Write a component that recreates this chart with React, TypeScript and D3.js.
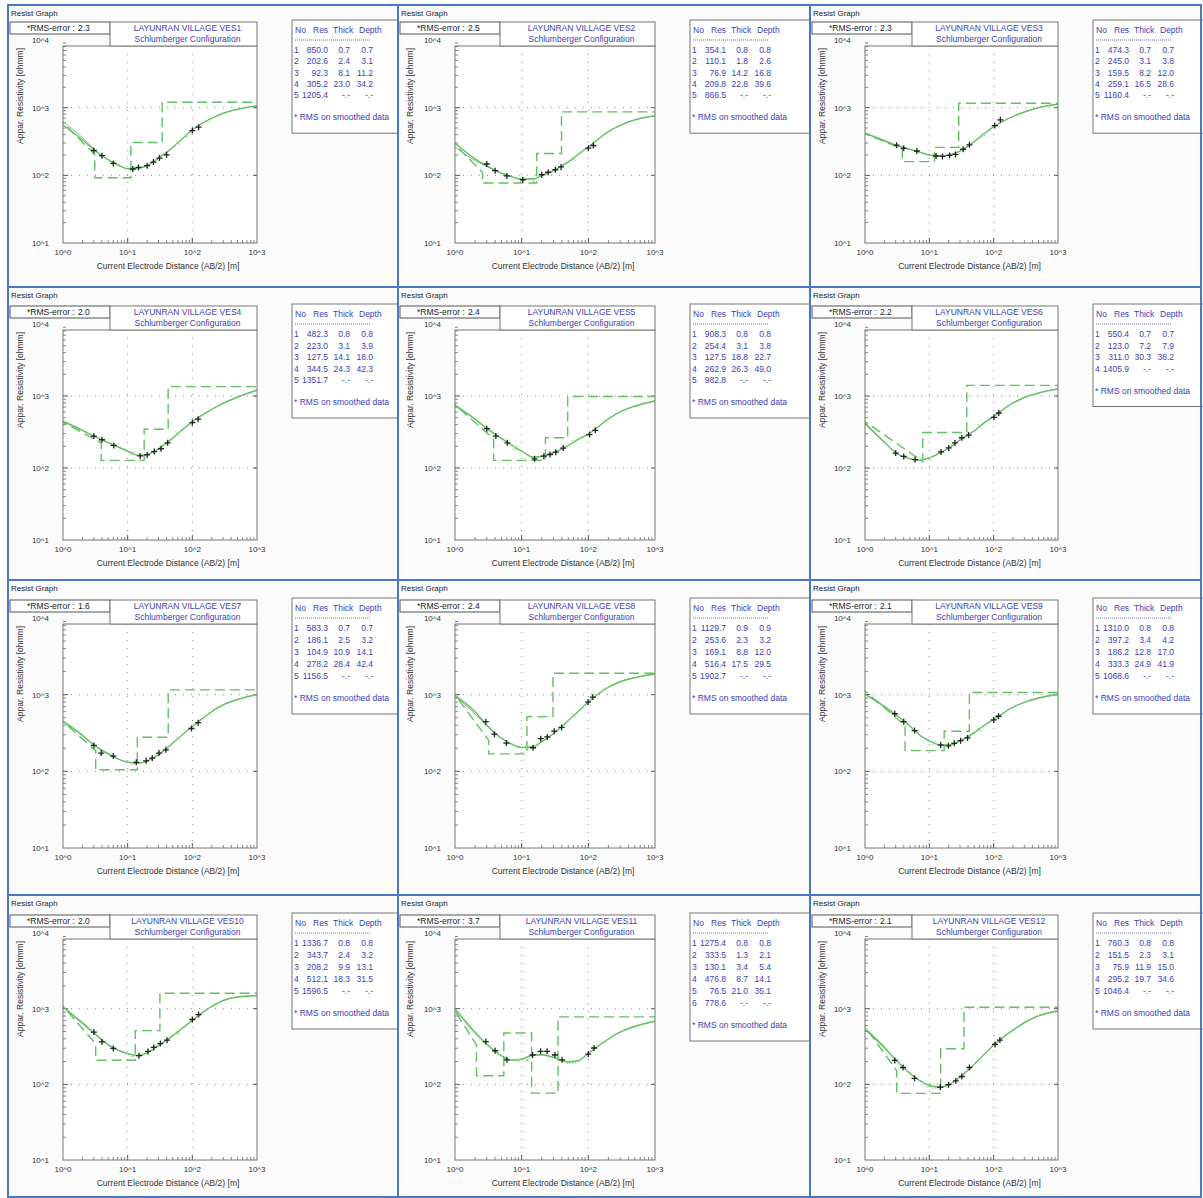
import React from 'react';
import * as d3 from 'd3';

const STATIONS = ['VES1', 'VES2', 'VES3', 'VES4', 'VES5', 'VES6', 'VES7', 'VES8', 'VES9', 'VES10', 'VES11', 'VES12'];
const RMS_ERROR = [2.3, 2.5, 2.3, 2.0, 2.4, 2.2, 1.6, 2.4, 2.1, 2.0, 3.7, 2.1];

const LAYER_RES = [
  [850.0, 202.6, 92.3, 305.2, 1205.4],
  [354.1, 110.1, 76.9, 209.8, 866.5],
  [474.3, 245.0, 159.5, 259.1, 1160.4],
  [482.3, 223.0, 127.5, 344.5, 1351.7],
  [908.3, 254.4, 127.5, 262.9, 982.8],
  [550.4, 123.0, 311.0, 1405.9],
  [583.3, 186.1, 104.9, 278.2, 1156.5],
  [1129.7, 253.6, 169.1, 516.4, 1902.7],
  [1310.0, 397.2, 186.2, 333.3, 1068.6],
  [1336.7, 343.7, 208.2, 512.1, 1596.5],
  [1275.4, 333.5, 130.1, 476.8, 76.5, 778.6],
  [760.3, 151.5, 75.9, 295.2, 1046.4],
];
const LAYER_THICK = [
  [0.7, 2.4, 8.1, 23.0],
  [0.8, 1.8, 14.2, 22.8],
  [0.7, 3.1, 8.2, 16.5],
  [0.8, 3.1, 14.1, 24.3],
  [0.8, 3.1, 18.8, 26.3],
  [0.7, 7.2, 30.3],
  [0.7, 2.5, 10.9, 28.4],
  [0.9, 2.3, 8.8, 17.5],
  [0.8, 3.4, 12.8, 24.9],
  [0.8, 2.4, 9.9, 18.3],
  [0.8, 1.3, 3.4, 8.7, 21.0],
  [0.8, 2.3, 11.9, 19.7],
];
const LAYER_DEPTH = [
  [0.7, 3.1, 11.2, 34.2],
  [0.8, 2.6, 16.8, 39.6],
  [0.7, 3.8, 12.0, 28.6],
  [0.8, 3.9, 18.0, 42.3],
  [0.8, 3.8, 22.7, 49.0],
  [0.7, 7.9, 38.2],
  [0.7, 3.2, 14.1, 42.4],
  [0.9, 3.2, 12.0, 29.5],
  [0.8, 4.2, 17.0, 41.9],
  [0.8, 3.2, 13.1, 31.5],
  [0.8, 2.1, 5.4, 14.1, 35.1],
  [0.8, 3.1, 15.0, 34.6],
];

// AB/2 positions at which the two curves were read
const CURVE_AB2 = [1, 2, 3, 5, 7, 10, 15, 20, 30, 50, 70, 100, 200, 300, 500, 1000];
const MODEL_CURVE = [
  [556, 335, 238, 170, 144, 126, 128, 140, 180, 261, 346, 470, 697, 825, 945, 1060],
  [300, 175, 138, 108, 96, 88, 89, 99, 118, 158, 203, 262, 440, 545, 660, 755],
  [417, 324, 279, 242, 222, 200, 194, 200, 229, 316, 407, 525, 741, 861, 1000, 1122],
  [447, 334, 278, 225, 198, 172, 150, 155, 185, 262, 340, 440, 650, 790, 960, 1200],
  [748, 480, 355, 258, 210, 172, 142, 146, 163, 205, 250, 295, 480, 600, 720, 850],
  [420, 230, 163, 135, 129, 138, 165, 190, 245, 330, 420, 520, 800, 950, 1100, 1250],
  [453, 296, 220, 170, 146, 132, 128, 137, 165, 235, 300, 385, 600, 735, 860, 1000],
  [980, 600, 400, 270, 228, 205, 210, 245, 310, 460, 600, 800, 1250, 1470, 1660, 1850],
  [1020, 707, 552, 390, 300, 250, 222, 222, 250, 320, 395, 475, 685, 790, 900, 1000],
  [1072, 650, 481, 335, 285, 255, 240, 262, 325, 440, 550, 700, 1070, 1280, 1420, 1480],
  [1000, 489, 342, 239, 209, 215, 244, 246, 227, 198, 205, 257, 398, 489, 581, 678],
  [551, 310, 212, 140, 113, 97, 92, 99, 125, 185, 244, 330, 520, 650, 800, 930],
];
const SMOOTH_CURVE = [
  [622, 360, 245, 168, 142, 125, 127, 139, 178, 258, 345, 468, 700, 830, 950, 1070],
  [262, 165, 135, 107, 95, 87, 88, 98, 117, 157, 202, 262, 445, 550, 665, 765],
  [425, 330, 282, 240, 220, 198, 193, 199, 228, 315, 405, 520, 745, 870, 1010, 1135],
  [440, 330, 276, 224, 196, 170, 149, 154, 184, 260, 338, 438, 655, 800, 975, 1220],
  [720, 470, 350, 255, 208, 170, 141, 145, 162, 204, 249, 295, 485, 610, 730, 865],
  [400, 225, 162, 134, 128, 137, 164, 189, 243, 328, 418, 520, 805, 960, 1110, 1265],
  [440, 290, 218, 168, 145, 131, 127, 136, 164, 233, 298, 383, 605, 745, 870, 1010],
  [960, 560, 390, 268, 226, 204, 208, 243, 308, 458, 598, 805, 1260, 1490, 1680, 1880],
  [1000, 690, 545, 388, 298, 248, 221, 221, 249, 318, 393, 473, 690, 800, 915, 1020],
  [1040, 630, 470, 330, 282, 253, 239, 260, 323, 438, 548, 705, 1080, 1295, 1440, 1500],
  [1000, 470, 335, 236, 207, 214, 244, 246, 226, 196, 203, 255, 400, 495, 590, 690],
  [520, 300, 208, 138, 112, 96, 91, 98, 124, 183, 242, 328, 525, 660, 815, 945],
];

// field measurements [AB/2, apparent resistivity]
const FIELD_DATA = [
  [[3, 233], [4, 195], [6, 150], [12, 124], [14.7, 131], [20, 139], [25, 157], [31, 180], [40, 201], [100, 459], [125, 514]],
  [[3, 147], [4, 117], [6, 98], [10.4, 86], [20, 102], [25, 111], [32, 121], [39, 133], [100, 252], [119, 276]],
  [[3.1, 279], [4, 251], [6.4, 229], [12.7, 193], [16, 190], [20.6, 197], [25.5, 204], [33.6, 243], [42, 282], [104, 543], [127, 661]],
  [[3, 278], [4, 247], [6.1, 206], [15.6, 147], [20, 152], [25.8, 169], [32.7, 185], [41.5, 224], [100, 428], [123, 476]],
  [[3, 352], [4.1, 278], [6.1, 224], [15.6, 134], [21.5, 146], [26.6, 154], [32.5, 166], [42, 189], [104, 291], [127, 334]],
  [[3, 161], [4, 145], [6, 131], [15.2, 167], [20, 190], [25, 223], [32, 263], [40.7, 287], [101, 505], [120, 581]],
  [[3, 218], [3.9, 173], [6, 158], [13.6, 131], [19.3, 137], [24, 149], [30.5, 173], [39, 191], [97, 362], [123, 431]],
  [[2.9, 444], [3.9, 305], [5.9, 234], [14.8, 203], [19.3, 267], [24.2, 281], [30.8, 334], [39.7, 374], [99, 800], [117, 931]],
  [[2.9, 564], [4, 444], [5.9, 340], [15, 220], [19.8, 215], [24.4, 232], [30.6, 251], [39.3, 273], [100, 469], [119, 523]],
  [[3, 491], [4, 364], [6, 298], [15, 239], [20.6, 272], [25.3, 307], [32, 346], [40.6, 383], [100, 719], [125, 836]],
  [[2.9, 367], [4, 278], [6, 211], [14.6, 244], [19.2, 273], [24.1, 273], [31.6, 244], [40.4, 211], [100, 251], [122, 302]],
  [[2.9, 207], [3.9, 167], [5.9, 120], [14.8, 92], [19.9, 99], [25.8, 111], [32, 127], [42, 167], [105, 337], [125, 384]],
];

// smoothed data markers (light x)
const SMOOTH_MARKS = [
  [[12, 125], [60, 300], [80, 380]],
  [[10, 84], [15, 84], [60, 175]],
  [[12, 196], [70, 400]],
  [[12, 160], [60, 300]],
  [[8, 190], [60, 230]],
  [[8, 128], [10, 135], [60, 380]],
  [[12, 128], [60, 270]],
  [[12, 205], [60, 530]],
  [[12, 235], [60, 350]],
  [[12, 240], [60, 480]],
  [[9, 208], [12, 210], [50, 195], [62, 198]],
  [[10, 96], [12, 92], [60, 215]],
];

const X_TICKS = [1, 10, 100, 1000];
const Y_TICKS = [10, 100, 1000, 10000];

// page layout (3 columns x 4 rows of screenshots)
const ROWS = [
  { top: 5, bottom: 287, y4: 40, y1: 243, step: 11.3 },
  { top: 287, bottom: 580, y4: 324, y1: 540, step: 11.5 },
  { top: 580, bottom: 895, y4: 618, y1: 848, step: 12 },
  { top: 895, bottom: 1197, y4: 933, y1: 1160, step: 12 },
];
const COLS = [
  { left: 8, right: 398, x0: 63, x3: 257 },
  { left: 398, right: 810, x0: 455, x3: 655 },
  { left: 810, right: 1201, x0: 865, x3: 1058 },
];

const FONT = '"Liberation Sans", Arial, sans-serif';
const BLUE_TEXT = '#3d3db8';
const GREEN = '#62c062';
const BORDER = '#4a78c8';

const fmt = (v: number) => v.toFixed(1);

function modelSteps(res: number[], depth: number[]) {
  const pts: number[][] = [[0.1, res[0]], [depth[0], res[0]]];
  for (let k = 1; k < res.length - 1; k++) {
    pts.push([depth[k], res[k]], [depth[k], res[k + 1]]);
  }
  pts.push([5000, res[res.length - 1]]);
  return pts;
}

function Panel({ idx }: { idx: number }) {
  const ri = Math.floor(idx / 3);
  const row = ROWS[ri];
  const col = COLS[idx % 3];
  const x = d3.scaleLog().domain([1, 1000]).range([col.x0, col.x3]);
  const y = d3.scaleLog().domain([10, 10000]).range([row.y1, row.y4]);
  const frameTop = row.y4 + 6;
  const boxTop = frameTop - 24;
  const clipId = `clip-${idx}`;

  const smoothLine = d3.line<number[]>().x(d => x(d[0])).y(d => y(d[1])).curve(d3.curveMonotoneX);
  const stepLine = d3.line<number[]>().x(d => x(d[0])).y(d => y(d[1]));

  const res = LAYER_RES[idx];
  const thick = LAYER_THICK[idx];
  const depth = LAYER_DEPTH[idx];
  const fit = CURVE_AB2.map((a, k) => [a, MODEL_CURVE[idx][k]]);
  const smooth = CURVE_AB2.map((a, k) => [a, SMOOTH_CURVE[idx][k]]);

  const minor: number[] = [];
  [1, 10, 100].forEach(d => { for (let m = 2; m < 10; m++) minor.push(d * m); });
  const minorY: number[] = [];
  [10, 100, 1000].forEach(d => { for (let m = 2; m < 10; m++) minorY.push(d * m); });

  const tLeft = col.x3 + 35;
  const tTop = boxTop - 2;
  const rowsY = res.map((_, k) => tTop + 33 + k * row.step);
  const noteY = rowsY[rowsY.length - 1] + 22;
  const tBottom = noteY + 13;

  const plotW = col.x3 - col.x0;

  return (
    <g fontFamily={FONT}>
      <rect x={col.left} y={row.top} width={col.right - col.left} height={row.bottom - row.top} fill="#fbfbfb" />
      <text x={col.left + 3} y={row.top + 11} fontSize={8} fill="#222">Resist Graph</text>

      <clipPath id={clipId}>
        <rect x={col.x0} y={frameTop} width={plotW} height={row.y1 - frameTop} />
      </clipPath>
      <rect x={col.x0} y={frameTop} width={plotW} height={row.y1 - frameTop} fill="#ffffff" />

      {/* dotted grid */}
      {[10, 100].map(v => (
        <line key={'gx' + v} x1={x(v)} x2={x(v)} y1={frameTop} y2={row.y1} stroke="#888" strokeWidth={1} strokeDasharray="1,7" />
      ))}
      {[100, 1000].map(v => (
        <line key={'gy' + v} x1={col.x0} x2={col.x3} y1={y(v)} y2={y(v)} stroke="#888" strokeWidth={1} strokeDasharray="1,7" />
      ))}

      {/* minor ticks */}
      {minor.map(v => (
        <line key={'mx' + v} x1={x(v)} x2={x(v)} y1={row.y1} y2={row.y1 - 3} stroke="#666" strokeWidth={0.8} />
      ))}
      {minorY.map(v => (
        <line key={'my' + v} x1={col.x0} x2={col.x0 + 3} y1={y(v)} y2={y(v)} stroke="#666" strokeWidth={0.8} />
      ))}
      {[10, 100].map(v => (
        <line key={'tx' + v} x1={x(v)} x2={x(v)} y1={row.y1} y2={row.y1 - 5} stroke="#555" strokeWidth={1} />
      ))}
      {[100, 1000].map(v => (
        <g key={'ty' + v}>
          <line x1={col.x0} x2={col.x0 + 5} y1={y(v)} y2={y(v)} stroke="#555" strokeWidth={1} />
          <line x1={col.x3} x2={col.x3 - 4} y1={y(v)} y2={y(v)} stroke="#555" strokeWidth={1} />
        </g>
      ))}

      <g clipPath={`url(#${clipId})`}>
        <path d={stepLine(modelSteps(res, depth)) || ''} fill="none" stroke={GREEN} strokeWidth={1.4} strokeDasharray="10,5" />
        <path d={smoothLine(smooth) || ''} fill="none" stroke={GREEN} strokeWidth={0.9} />
        <path d={smoothLine(fit) || ''} fill="none" stroke={GREEN} strokeWidth={1.3} />
        {SMOOTH_MARKS[idx].map((p, k) => (
          <path key={'sm' + k} transform={`translate(${x(p[0])},${y(p[1])})`} d="M-2,-2L2,2M-2,2L2,-2" stroke="#8fd08f" strokeWidth={1} />
        ))}
        {FIELD_DATA[idx].map((p, k) => (
          <path key={'fd' + k} transform={`translate(${x(p[0])},${y(p[1])})`} d="M-3,0H3M0,-3V3" stroke="#222" strokeWidth={1.3} />
        ))}
      </g>

      {/* frame */}
      <rect x={col.x0} y={frameTop} width={plotW} height={row.y1 - frameTop} fill="none" stroke="#777" strokeWidth={1} />

      {/* axis labels */}
      {Y_TICKS.map(v => (
        <text key={'yl' + v} x={col.x0 - 14} y={y(v) + 3} fontSize={8} textAnchor="end" fill="#333">
          {`10^${Math.round(Math.log10(v))}`}
        </text>
      ))}
      {X_TICKS.map(v => (
        <text key={'xl' + v} x={x(v)} y={row.y1 + 12} fontSize={8} textAnchor="middle" fill="#333">
          {`10^${Math.round(Math.log10(v))}`}
        </text>
      ))}
      <text x={(col.x0 + col.x3) / 2 + 8} y={row.y1 + 26} fontSize={8.5} textAnchor="middle" fill="#333">
        Current Electrode Distance (AB/2) [m]
      </text>
      <text transform={`translate(${col.left + 15},${frameTop + 2}) rotate(-90)`} fontSize={8.5} textAnchor="end" fill="#333">
        Appar. Resistivity [ohmm]
      </text>

      {/* RMS box */}
      <rect x={col.left + 2} y={boxTop} width={100} height={12} fill="#fff" stroke="#555" strokeWidth={1} />
      <text x={col.left + 19} y={boxTop + 9} fontSize={8.5} fill="#222">*RMS-error :</text>
      <text x={col.left + 70} y={boxTop + 9} fontSize={8.5} fill="#222">{fmt(RMS_ERROR[idx])}</text>

      {/* title box */}
      <rect x={col.left + 102} y={boxTop} width={col.x3 - col.left - 102} height={frameTop - boxTop} fill="#fff" stroke="#777" strokeWidth={1} />
      <text x={(col.left + 102 + col.x3) / 2 + 4} y={boxTop + 9} fontSize={8.5} textAnchor="middle" fill={BLUE_TEXT}>
        {`LAYUNRAN VILLAGE ${STATIONS[idx]}`}
      </text>
      <text x={(col.left + 102 + col.x3) / 2 + 4} y={boxTop + 20} fontSize={8.5} textAnchor="middle" fill={BLUE_TEXT}>
        Schlumberger Configuration
      </text>

      {/* layer table */}
      <rect x={tLeft} y={tTop} width={col.right - tLeft + 4} height={tBottom - tTop} fill="#fff" stroke="#777" strokeWidth={1} />
      <g fontSize={8.5} fill={BLUE_TEXT}>
        <text x={tLeft + 3} y={tTop + 13}>No</text>
        <text x={tLeft + 21} y={tTop + 13}>Res</text>
        <text x={tLeft + 41} y={tTop + 13}>Thick</text>
        <text x={tLeft + 67} y={tTop + 13}>Depth</text>
        <line x1={tLeft + 3} x2={tLeft + 78} y1={tTop + 20} y2={tTop + 20} stroke={BLUE_TEXT} strokeWidth={0.8} strokeDasharray="1,1" />
        {res.map((r, k) => (
          <g key={'row' + k}>
            <text x={tLeft + 2} y={rowsY[k]}>{`${k + 1}`}</text>
            <text x={tLeft + 36} y={rowsY[k]} textAnchor="end">{fmt(r)}</text>
            <text x={tLeft + 58} y={rowsY[k]} textAnchor="end">{k < thick.length ? fmt(thick[k]) : '-.-'}</text>
            <text x={tLeft + 81} y={rowsY[k]} textAnchor="end">{k < depth.length ? fmt(depth[k]) : '-.-'}</text>
          </g>
        ))}
        <text x={tLeft + 2} y={noteY}>* RMS on smoothed data</text>
      </g>
    </g>
  );
}

export default function App() {
  return (
    <div style={{ position: 'absolute', left: 0, top: 0, width: 1203, height: 1198, background: '#fff' }}>
      <svg width={1203} height={1198} viewBox="0 0 1203 1198">
        <rect width={1203} height={1198} fill="#fff" />
        {STATIONS.map((_, i) => <Panel key={i} idx={i} />)}
        {/* blue frames around each screenshot */}
        {STATIONS.map((_, i) => {
          const r = ROWS[Math.floor(i / 3)];
          const c = COLS[i % 3];
          return (
            <rect key={'b' + i} x={c.left} y={r.top} width={c.right - c.left} height={r.bottom - r.top} fill="none" stroke={BORDER} strokeWidth={2} />
          );
        })}
      </svg>
    </div>
  );
}
